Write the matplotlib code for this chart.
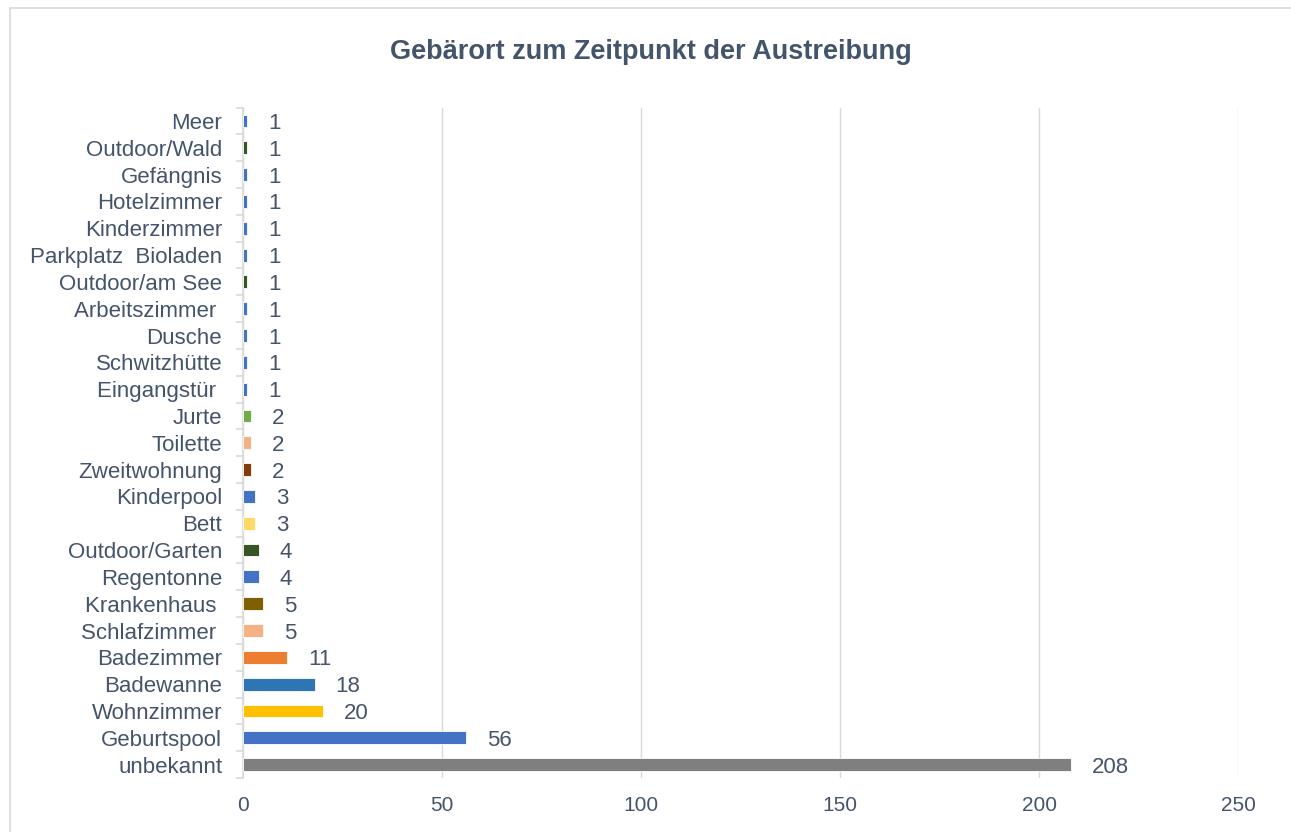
import matplotlib
matplotlib.use("Agg")
import matplotlib.pyplot as plt
from matplotlib.patches import Rectangle

plt.rcParams["font.family"] = ["Liberation Sans", "DejaVu Sans"]

INK = "#44546A"
GRID = "#D9D9D9"

# top to bottom as in the chart
places = ["Meer", "Outdoor/Wald", "Gefängnis", "Hotelzimmer", "Kinderzimmer",
          "Parkplatz  Bioladen", "Outdoor/am See", "Arbeitszimmer ", "Dusche",
          "Schwitzhütte", "Eingangstür ", "Jurte", "Toilette", "Zweitwohnung",
          "Kinderpool", "Bett", "Outdoor/Garten", "Regentonne", "Krankenhaus ",
          "Schlafzimmer ", "Badezimmer", "Badewanne", "Wohnzimmer",
          "Geburtspool", "unbekannt"]
counts = [1, 1, 1, 1, 1, 1, 1, 1, 1, 1, 1, 2, 2, 2, 3, 3, 4, 4, 5, 5,
          11, 18, 20, 56, 208]
colors = ["#4472C4", "#375623", "#4472C4", "#4472C4", "#4472C4", "#4472C4",
          "#375623", "#4472C4", "#4472C4", "#4472C4", "#4472C4", "#70AD47",
          "#F4B183", "#843C0C", "#4472C4", "#FFD966", "#375623", "#4472C4",
          "#7F6000", "#F4B183", "#ED7D31", "#2E75B6", "#FFC000", "#4472C4",
          "#7F7F7F"]

fig = plt.figure(figsize=(12.91, 8.32), dpi=100)
fig.patches.append(Rectangle((10 / 1291, -0.1), 1.2, 1.1 - 8 / 832,
                             transform=fig.transFigure, fill=False,
                             edgecolor=GRID, lw=1.2))
ax = fig.add_axes([0.1882, 0.0649, 0.7708, 0.8058])

n = len(places)
ypos = [n - 1 - i for i in range(n)]
ax.barh(ypos, counts, height=0.48, color=colors, edgecolor="white",
        linewidth=0.6, zorder=3)
for y, v in zip(ypos, counts):
    ax.annotate(str(v), (v, y), xytext=(21, 0), textcoords="offset pixels",
                ha="left", va="center_baseline", fontsize=16, color=INK)

ax.set_xlim(0, 250)
ax.set_ylim(-0.5, n - 0.5)
ax.set_xticks(range(0, 251, 50))
ax.set_yticks(ypos)
ax.set_yticklabels(places)
ax.set_yticks([i - 0.5 for i in range(n + 1)], minor=True)
ax.tick_params(axis="y", which="major", length=0, pad=15, labelsize=16,
               labelcolor=INK)
ax.tick_params(axis="y", which="minor", length=5, color=GRID, width=1.2)
ax.tick_params(axis="x", length=0, pad=13, labelsize=15, labelcolor=INK)
ax.grid(axis="x", color=GRID, lw=1, zorder=0)
for sp in ("top", "right", "bottom"):
    ax.spines[sp].set_visible(False)
ax.spines["left"].set_color(GRID)
ax.spines["left"].set_linewidth(1.2)

fig.text(651 / 1291, 1 - 52 / 832, "Gebärort zum Zeitpunkt der Austreibung",
         ha="center", va="center", fontsize=19.5, fontweight="bold", color=INK)

fig.savefig("out.png", dpi=100)
